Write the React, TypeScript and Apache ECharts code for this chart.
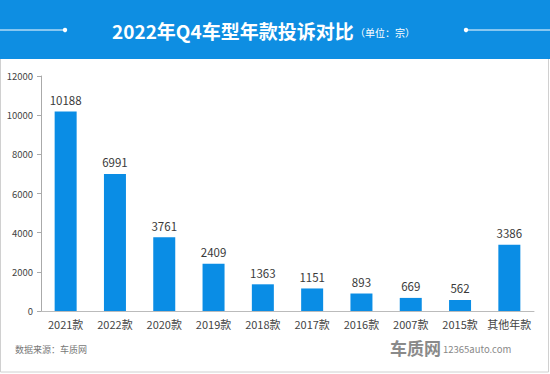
import React, { useEffect, useRef } from "react";
import * as echarts from "echarts";

const categories = ["2021款", "2022款", "2020款", "2019款", "2018款", "2017款", "2016款", "2007款", "2015款", "其他年款"];
const complaints = [10188, 6991, 3761, 2409, 1363, 1151, 893, 669, 562, 3386];
const titleText = "2022年Q4车型年款投诉对比";
const unitText = "（单位：宗）";
const sourceText = "数据来源：车质网";

const FONT = "'Noto Sans CJK SC', 'Noto Sans', sans-serif";

export default function App() {
  const ref = useRef<HTMLDivElement>(null);
  useEffect(() => {
    document.body.style.margin = "0";
    const chart = echarts.init(ref.current!, undefined, { renderer: "svg" });
    chart.setOption({
      animation: false,
      backgroundColor: "#ffffff",
      textStyle: { fontFamily: FONT },
      grid: { left: 41, right: 16, top: 76, bottom: 63, containLabel: false },
      xAxis: {
        type: "category",
        data: categories,
        axisLine: { lineStyle: { color: "#bbbbbb" } },
        axisTick: { show: false },
        axisLabel: { color: "#444444", fontSize: 11, margin: 7, interval: 0, fontFamily: FONT },
      },
      yAxis: {
        type: "value",
        min: 0,
        max: 12000,
        interval: 2000,
        axisLine: { show: true, lineStyle: { color: "#aaaaaa" } },
        axisTick: { show: true, length: 4, inside: false, lineStyle: { color: "#aaaaaa" } },
        splitLine: { show: false },
        axisLabel: {
          color: "#444444",
          fontSize: 9.5,
          margin: 8,
          fontFamily: FONT,
          formatter: (v: number) => String(v),
        },
      },
      series: [
        {
          type: "bar",
          data: complaints,
          barWidth: 22,
          itemStyle: { color: "#0a8de5" },
          label: { show: true, position: "top", color: "#3a3a3a", fontSize: 11.5, distance: 6, fontFamily: FONT },
        },
      ],
      graphic: [
        { type: "rect", shape: { x: 0.5, y: 0, width: 548, height: 372 }, style: { fill: "none", stroke: "#d0d0d0", lineWidth: 1 }, z: 0 },
        { type: "rect", shape: { x: 0, y: 0, width: 550, height: 59 }, style: { fill: "#0e8ee2" }, z: 1 },
        { type: "line", shape: { x1: 0, y1: 30, x2: 65, y2: 30 }, style: { stroke: "#ffffff", lineWidth: 1 }, z: 2 },
        { type: "circle", shape: { cx: 65, cy: 30, r: 2.2 }, style: { fill: "#ffffff" }, z: 2 },
        { type: "line", shape: { x1: 466, y1: 30, x2: 550, y2: 30 }, style: { stroke: "#ffffff", lineWidth: 1 }, z: 2 },
        { type: "circle", shape: { cx: 466, cy: 30, r: 2.2 }, style: { fill: "#ffffff" }, z: 2 },
        {
          type: "text",
          x: 112,
          y: 30,
          style: { text: titleText, fill: "#ffffff", font: `bold 19px ${FONT}`, textVerticalAlign: "middle" },
          z: 3,
        },
        {
          type: "text",
          x: 355,
          y: 32,
          style: { text: unitText, fill: "#ffffff", font: `10px ${FONT}`, textVerticalAlign: "middle" },
          z: 3,
        },
        {
          type: "text",
          x: 15,
          y: 349,
          style: { text: sourceText, fill: "#777777", font: `9px ${FONT}`, textVerticalAlign: "middle" },
          z: 3,
        },
        {
          type: "text",
          x: 390,
          y: 347,
          style: { text: "车质网", fill: "#8a8a8a", font: `bold 17px ${FONT}`, textVerticalAlign: "middle" },
          z: 3,
        },
        {
          type: "text",
          x: 443,
          y: 349,
          style: { text: "12365auto.com", fill: "#888888", font: `9.5px ${FONT}`, textVerticalAlign: "middle" },
          z: 3,
        },
      ],
    });
    return () => chart.dispose();
  }, []);
  return <div ref={ref} style={{ position: "fixed", left: 0, top: 0, width: 550, height: 374 }} />;
}
